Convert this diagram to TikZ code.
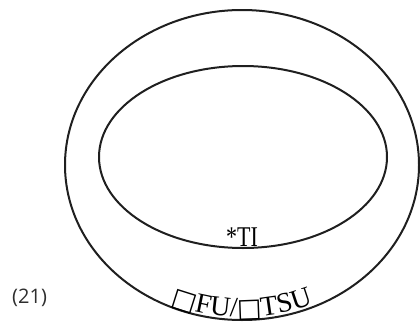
\documentclass[tikz,border=0pt]{standalone}
\usepackage{fontspec}
\setmainfont{Liberation Serif}
\newfontfamily\labfont{Open Sans}
\newfontfamily\sqfont{DejaVu Sans}
\newfontfamily\lsfont{Liberation Serif}
\usetikzlibrary{decorations.text}
\tikzset{
  ring/.style={draw=black!88, line width=2pt},
}
\begin{document}
\begin{tikzpicture}[x=1pt,y=1pt]
\useasboundingbox (0,0) rectangle (420,325);
\coordinate (oc) at (242,160);
\coordinate (ic) at (243,168);
\draw[ring] (oc) ellipse[x radius=177pt, y radius=155pt];
\draw[ring] (ic) ellipse[x radius=144pt, y radius=91pt];
\node[anchor=base, inner sep=0pt, yscale=1.3, transform shape, font=\lsfont\fontsize{22}{22}\selectfont] (ti) at (242,79) {*TI};
\path[decorate, decoration={text along path, text align=center,
  text={|\sqfont\fontsize{26}{26}\selectfont|□|\lsfont\fontsize{28}{28}\selectfont|FU/|\sqfont\fontsize{26}{26}\selectfont|□|\lsfont\fontsize{28}{28}\selectfont|TSU}}]
  (oc) ++(225:174pt and 152pt) arc[start angle=225, end angle=315, x radius=174pt, y radius=152pt];
\node[font=\labfont\fontsize{20}{20}\selectfont, text=black!82, anchor=west, inner sep=0pt] (lab) at (12,27) {(21)};
\end{tikzpicture}
\end{document}
